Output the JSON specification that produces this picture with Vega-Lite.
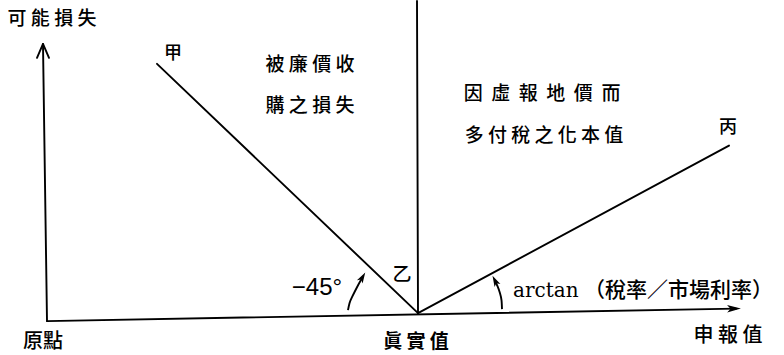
{
  "$schema": "https://vega.github.io/schema/vega-lite/v6.json",
  "width": 784,
  "height": 355,
  "autosize": {"type": "fit", "contains": "padding"},
  "padding": 0,
  "background": "white",
  "config": {"view": {"stroke": null}, "axis": {"disable": true}},
  "datasets": {
    "segs": [
      {"name": "y-axis", "x": 47, "y": 34, "x2": 43, "y2": 311},
      {"name": "y-arrow-l", "x": 43, "y": 312, "x2": 37, "y2": 298},
      {"name": "y-arrow-r", "x": 43, "y": 312, "x2": 49, "y2": 298},
      {"name": "x-axis", "x": 47, "y": 34, "x2": 736, "y2": 46.5},
      {"name": "vertical", "x": 417, "y": 355, "x2": 418, "y2": 42},
      {"name": "甲", "x": 157, "y": 292, "x2": 418, "y2": 42},
      {"name": "丙", "x": 418, "y": 42, "x2": 729, "y2": 210}
    ],
    "arcs": [
      {"arc": "a1", "ord": 1, "x": 348, "y": 45},
      {"arc": "a1", "ord": 2, "x": 349.5, "y": 52},
      {"arc": "a1", "ord": 3, "x": 352, "y": 58},
      {"arc": "a1", "ord": 4, "x": 357, "y": 68},
      {"arc": "a1", "ord": 5, "x": 362, "y": 77},
      {"arc": "a2", "ord": 1, "x": 502, "y": 46},
      {"arc": "a2", "ord": 2, "x": 501.5, "y": 55},
      {"arc": "a2", "ord": 3, "x": 500, "y": 62},
      {"arc": "a2", "ord": 4, "x": 497.5, "y": 69},
      {"arc": "a2", "ord": 5, "x": 495, "y": 74}
    ],
    "heads": [
      {"id": "x", "x": 734, "y": 46.5},
      {"id": "a1", "x": 362.5, "y": 78},
      {"id": "a2", "x": 495, "y": 74.5}
    ],
    "labels": [
      {"g": "n19", "label": "可 能 損 失", "x": 52, "y": 337},
      {"g": "n17", "label": "甲", "x": 173, "y": 302},
      {"g": "n19", "label": "被 廉 價 收", "x": 310, "y": 291},
      {"g": "n19", "label": "購 之 損 失", "x": 310, "y": 250},
      {"g": "n19", "label": "因\u00a0\u00a0虛\u00a0\u00a0報\u00a0\u00a0地\u00a0\u00a0價\u00a0\u00a0而", "x": 542, "y": 262},
      {"g": "n19", "label": "多 付 稅 之 化 本 值", "x": 544, "y": 220},
      {"g": "n17", "label": "丙", "x": 728, "y": 228},
      {"g": "deg", "label": "−45°", "x": 317, "y": 67},
      {"g": "n19", "label": "乙", "x": 402, "y": 80},
      {"g": "arctan", "label": "arctan", "x": 513, "y": 58},
      {"g": "paren", "label": "（稅率／市場利率）", "x": 584, "y": 64},
      {"g": "n20", "label": "原點", "x": 43, "y": 13},
      {"g": "bold", "label": "眞 實 值", "x": 416, "y": 13},
      {"g": "n20", "label": "申 報 值", "x": 728, "y": 19}
    ]
  },
  "encoding": {
    "x": {"field": "x", "type": "quantitative", "scale": {"domain": [0, 784], "nice": false, "zero": false}, "axis": null},
    "y": {"field": "y", "type": "quantitative", "scale": {"domain": [0, 355], "nice": false, "zero": false}, "axis": null}
  },
  "layer": [
    {
      "data": {"name": "segs"},
      "mark": {"type": "rule", "color": "black", "strokeWidth": 1.9, "strokeCap": "round"},
      "encoding": {"x2": {"field": "x2"}, "y2": {"field": "y2"}}
    },
    {
      "data": {"name": "arcs"},
      "mark": {"type": "line", "color": "black", "strokeWidth": 1.9, "interpolate": "natural"},
      "encoding": {"detail": {"field": "arc"}, "order": {"field": "ord", "type": "quantitative"}}
    },
    {
      "data": {"name": "heads"},
      "transform": [{"filter": "datum.id == 'x'"}],
      "mark": {"type": "point", "filled": true, "color": "black", "opacity": 1, "shape": "M1,0L-1,-0.55L-0.5,0L-1,0.55Z", "size": 190, "angle": -1}
    },
    {
      "data": {"name": "heads"},
      "transform": [{"filter": "datum.id == 'a1'"}],
      "mark": {"type": "point", "filled": true, "color": "black", "opacity": 1, "shape": "M1,0L-1,-0.6L-0.5,0L-1,0.6Z", "size": 120, "angle": -60}
    },
    {
      "data": {"name": "heads"},
      "transform": [{"filter": "datum.id == 'a2'"}],
      "mark": {"type": "point", "filled": true, "color": "black", "opacity": 1, "shape": "M1,0L-1,-0.6L-0.5,0L-1,0.6Z", "size": 120, "angle": -117}
    },
    {
      "data": {"name": "labels"},
      "transform": [{"filter": "datum.g == 'n19'"}],
      "mark": {"type": "text", "font": "Noto Sans CJK TC", "fontSize": 19, "fontWeight": 500, "color": "black", "align": "center", "baseline": "middle"},
      "encoding": {"text": {"field": "label"}}
    },
    {
      "data": {"name": "labels"},
      "transform": [{"filter": "datum.g == 'n17'"}],
      "mark": {"type": "text", "font": "Noto Sans CJK TC", "fontSize": 18, "fontWeight": 500, "color": "black", "align": "center", "baseline": "middle"},
      "encoding": {"text": {"field": "label"}}
    },
    {
      "data": {"name": "labels"},
      "transform": [{"filter": "datum.g == 'n20'"}],
      "mark": {"type": "text", "font": "Noto Sans CJK TC", "fontSize": 20, "fontWeight": 500, "color": "black", "align": "center", "baseline": "middle"},
      "encoding": {"text": {"field": "label"}}
    },
    {
      "data": {"name": "labels"},
      "transform": [{"filter": "datum.g == 'bold'"}],
      "mark": {"type": "text", "font": "Noto Sans CJK TC", "fontSize": 19, "fontWeight": "bold", "color": "black", "align": "center", "baseline": "middle"},
      "encoding": {"text": {"field": "label"}}
    },
    {
      "data": {"name": "labels"},
      "transform": [{"filter": "datum.g == 'deg'"}],
      "mark": {"type": "text", "font": "Liberation Sans", "fontSize": 24, "color": "black", "align": "center", "baseline": "middle"},
      "encoding": {"text": {"field": "label"}}
    },
    {
      "data": {"name": "labels"},
      "transform": [{"filter": "datum.g == 'arctan'"}],
      "mark": {"type": "text", "font": "DejaVu Serif", "fontSize": 20, "color": "black", "align": "left", "baseline": "alphabetic"},
      "encoding": {"text": {"field": "label"}}
    },
    {
      "data": {"name": "labels"},
      "transform": [{"filter": "datum.g == 'paren'"}],
      "mark": {"type": "text", "font": "Noto Sans CJK TC", "fontSize": 21, "fontWeight": 500, "color": "black", "align": "left", "baseline": "middle"},
      "encoding": {"text": {"field": "label"}}
    }
  ]
}
